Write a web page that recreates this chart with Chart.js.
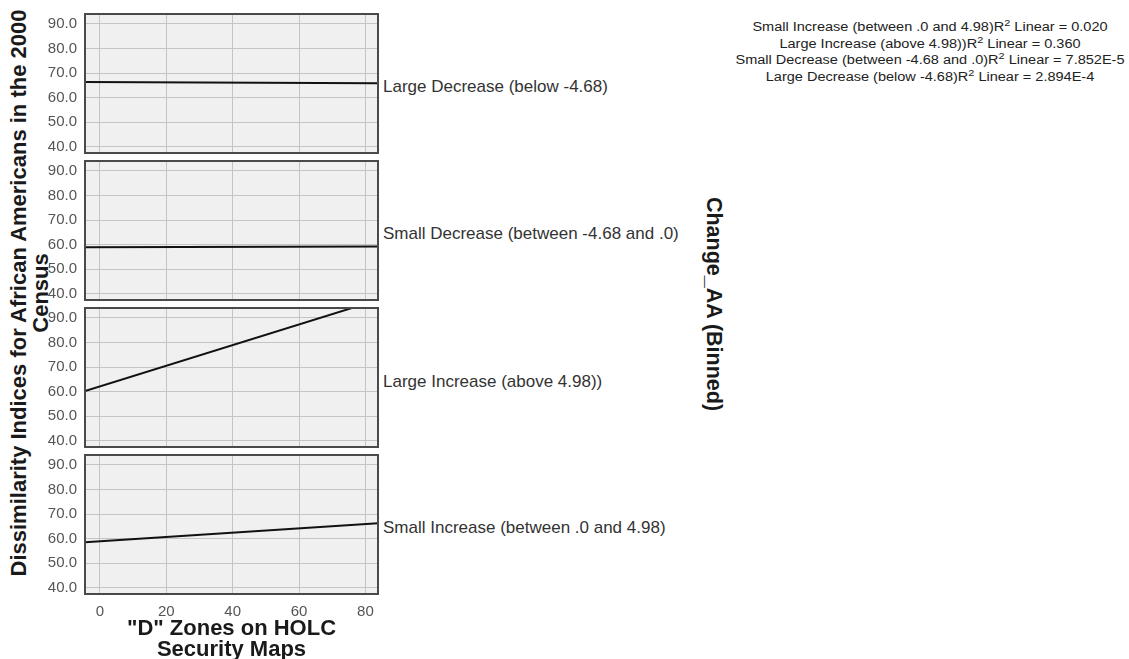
<!DOCTYPE html>
<html>
<head>
<meta charset="utf-8">
<script src="https://cdn.jsdelivr.net/npm/chart.js@4.4.1/dist/chart.umd.min.js"></script>
<style>
  body { margin: 0; width: 1129px; height: 659px; background: #fff; position: relative; overflow: hidden;
         font-family: "Liberation Sans", Arial, sans-serif; }
  canvas { position: absolute; left: 0; }
  .bin-label { position: absolute; left: 383px; font-size: 17px; color: #333; white-space: nowrap; transform: translateY(-50%); }
  .rot { position: absolute; font-weight: bold; color: #1a1a1a; white-space: nowrap; text-align: center; }
  #ytitle { left: 30px; top: 293px; font-size: 22px; line-height: 22px; transform: translate(-50%, -50%) rotate(-90deg); }
  #bintitle { left: 713px; top: 304px; font-size: 21.5px; transform: translate(-50%, -50%) rotate(90deg); }
  #r2 { position: absolute; left: 930px; top: 19px; transform: translateX(-50%) scaleX(1.21); text-align: center; font-size: 12px;
        line-height: 16.5px; color: #222; white-space: nowrap; }
  #r2 sup { font-size: 9px; line-height: 0; }
</style>
</head>
<body>
<div id="ytitle" class="rot">Dissimilarity Indices for African Americans in the 2000<br>Census</div>
<div id="bintitle" class="rot">Change_AA (Binned)</div>
<div id="r2"></div>
<script>
// values
const xTicks = [0, 20, 40, 60, 80];
const yTicks = [40, 50, 60, 70, 80, 90];
const binNames = ['Large Decrease (below -4.68)', 'Small Decrease (between -4.68 and .0)', 'Large Increase (above 4.98))', 'Small Increase (between .0 and 4.98)'];
const fitX = [-4.5, 83.8];
const fitStart = [66.4, 58.9, 60.2, 58.5];
const fitEnd = [65.9, 59.2, 97.3, 66.3];
const r2Names = ['Small Increase (between .0 and 4.98)', 'Large Increase (above 4.98))', 'Small Decrease (between -4.68 and .0)', 'Large Decrease (below -4.68)'];
const r2Values = ['0.020', '0.360', '7.852E-5', '2.894E-4'];
const xTitle = ['"D" Zones on HOLC', 'Security Maps'];

// panel layout
const panelTop = [14, 161, 308, 455];
const panelH = 139;
const labelY = [87, 234, 382, 528];

Chart.defaults.font.family = '"Liberation Sans", Arial, sans-serif';

document.getElementById('r2').innerHTML = r2Names
    .map((n, i) => n + 'R<sup>2</sup> Linear = ' + r2Values[i]).join('<br>');

// grey plot background + dark frame
const panelFrame = {
    id: 'panelFrame',
    beforeDraw(chart) {
        const a = chart.chartArea, ctx = chart.ctx;
        ctx.save();
        ctx.fillStyle = '#f0f0f0';
        ctx.fillRect(a.left, a.top, a.right - a.left, a.bottom - a.top);
        ctx.restore();
    },
    afterDraw(chart) {
        const a = chart.chartArea, ctx = chart.ctx;
        ctx.save();
        ctx.strokeStyle = '#4a4a4a';
        ctx.lineWidth = 2;
        ctx.strokeRect(a.left, a.top, a.right - a.left, a.bottom - a.top);
        ctx.restore();
    }
};

function noOverflow(s) {
    s.paddingTop = 0;
    s.paddingBottom = 0;
    s.paddingLeft = 0;
    s.paddingRight = 0;
}

binNames.forEach((name, i) => {
    const last = i === binNames.length - 1;
    const cv = document.createElement('canvas');
    const h = last ? 661 - (panelTop[i] - 8) : panelH + 16;
    cv.width = 382;
    cv.height = h;
    cv.style.top = (panelTop[i] - 8) + 'px';
    document.body.appendChild(cv);

    const lbl = document.createElement('div');
    lbl.className = 'bin-label';
    lbl.style.top = labelY[i] + 'px';
    lbl.textContent = name;
    document.body.appendChild(lbl);

    new Chart(cv.getContext('2d'), {
        type: 'scatter',
        data: {
            datasets: [{
                data: fitX.map((x, k) => ({ x: x, y: k === 0 ? fitStart[i] : fitEnd[i] })),
                showLine: true,
                borderColor: '#111',
                borderWidth: 2,
                pointRadius: 0
            }]
        },
        options: {
            responsive: false,
            animation: false,
            devicePixelRatio: 1,
            layout: { padding: { top: 8, right: 4, bottom: last ? 0 : 8, left: 0 } },
            plugins: { legend: { display: false }, tooltip: { enabled: false } },
            scales: {
                x: {
                    type: 'linear',
                    min: fitX[0],
                    max: fitX[1],
                    afterBuildTicks: s => { s.ticks = xTicks.map(v => ({ value: v })); },
                    afterFit: s => { s.height = last ? h - 8 - panelH : 0; noOverflow(s); },
                    grid: { color: '#c4c4c4', drawTicks: false },
                    border: { display: false },
                    ticks: { display: last, padding: 9, color: '#555', font: { size: 15 } },
                    title: {
                        display: last,
                        text: xTitle,
                        color: '#1a1a1a',
                        font: { size: 22, weight: 'bold', lineHeight: 0.97 },
                        padding: { top: 0, bottom: 0 }
                    }
                },
                y: {
                    min: 37.5,
                    max: 94,
                    afterBuildTicks: s => { s.ticks = yTicks.map(v => ({ value: v })); },
                    afterFit: s => { s.width = 85; noOverflow(s); },
                    grid: { color: '#c4c4c4', drawTicks: false },
                    border: { display: false },
                    ticks: { padding: 8, color: '#555', font: { size: 15 }, callback: v => v.toFixed(1) }
                }
            }
        },
        plugins: [panelFrame]
    });
});
</script>
</body>
</html>
